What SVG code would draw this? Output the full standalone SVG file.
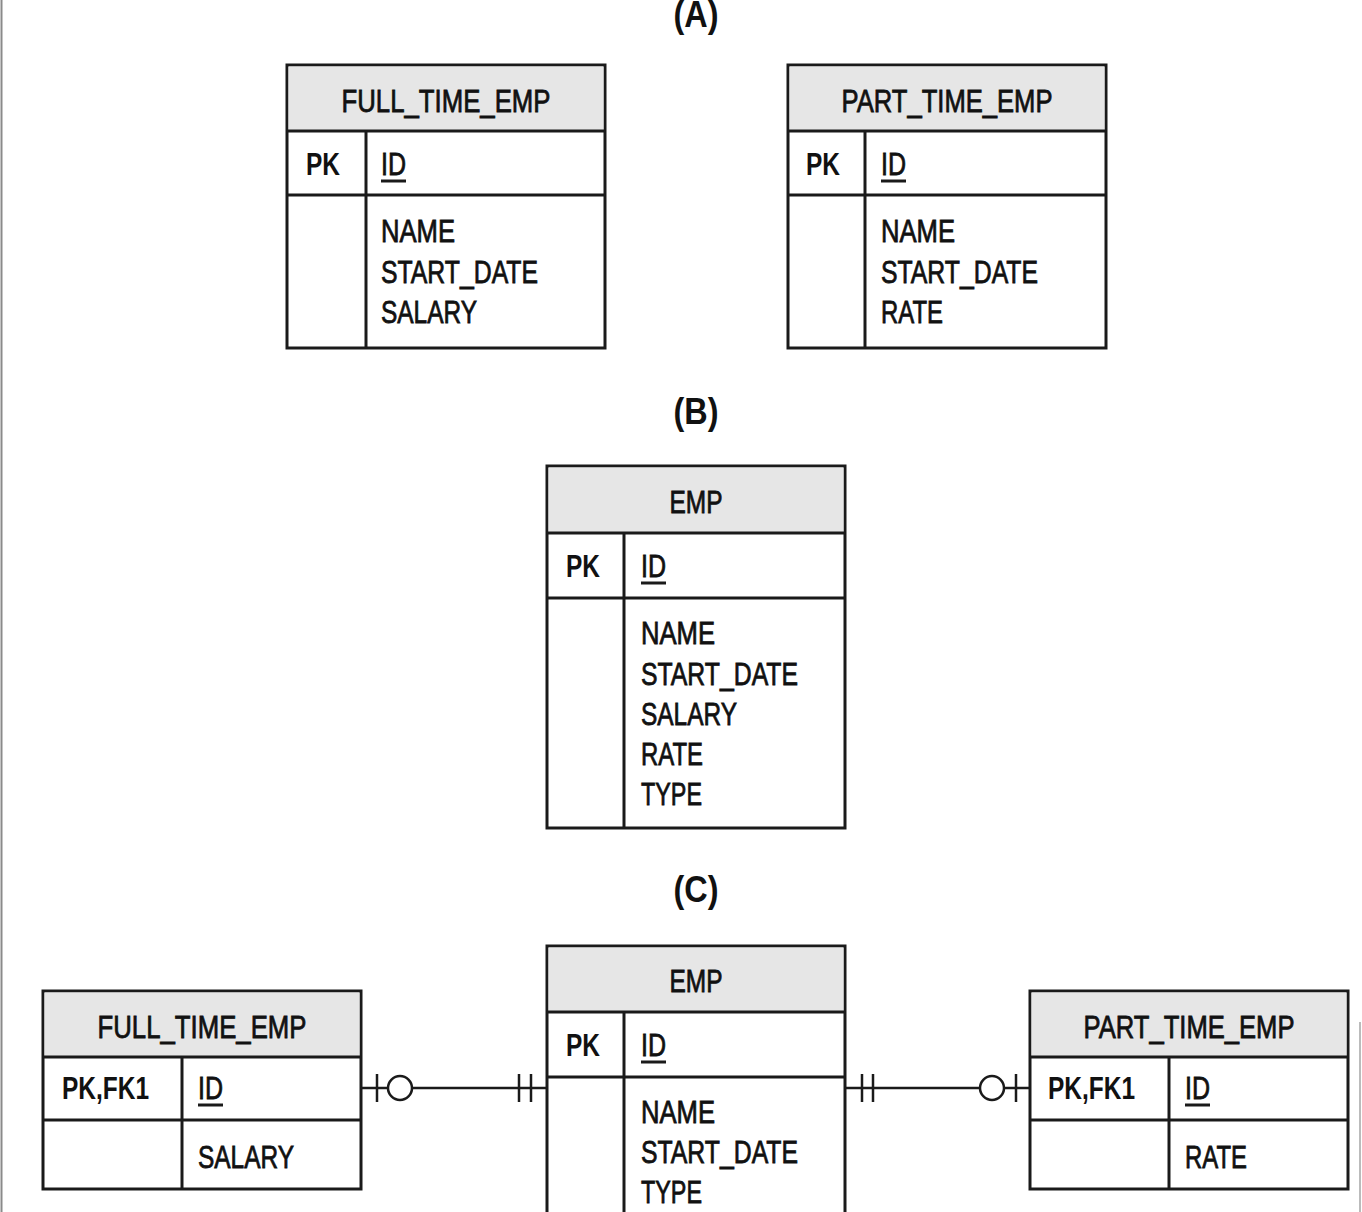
<svg xmlns="http://www.w3.org/2000/svg" width="1362" height="1212" viewBox="0 0 1362 1212">
<style>
text{font-family:"Liberation Sans",Arial,sans-serif;fill:#111;}
.t{font-size:32px;stroke:#111;stroke-width:0.8;}
.b{font-size:32px;font-weight:bold;}
.h{font-size:32px;text-anchor:middle;stroke:#111;stroke-width:0.8;}
.sec{font-size:36px;font-weight:bold;text-anchor:middle;}
.box{fill:#fff;stroke:#1a1a1a;stroke-width:3;}
.hd{fill:#e6e6e6;stroke:none;}
.ln{stroke:#1a1a1a;stroke-width:3;fill:none;}
.ul{stroke:#1a1a1a;stroke-width:3;}
.c{stroke:#1a1a1a;stroke-width:2.5;fill:none;}
.cc{stroke:#1a1a1a;stroke-width:2.5;fill:#fff;}
</style>
<rect width="1362" height="1212" fill="#fff"/>
<line x1="1.5" y1="0" x2="1.5" y2="1212" stroke="#8a8a8a" stroke-width="2"/>
<line x1="1360" y1="1022" x2="1360" y2="1212" stroke="#bbb" stroke-width="2"/>

<text class="sec" x="696" y="27" textLength="45" lengthAdjust="spacingAndGlyphs">(A)</text>
<text class="sec" x="696" y="424" textLength="45" lengthAdjust="spacingAndGlyphs">(B)</text>
<text class="sec" x="696" y="902" textLength="45" lengthAdjust="spacingAndGlyphs">(C)</text>

<g id="a_full_time_emp">
<rect class="box" x="287" y="65" width="318" height="283"/>
<rect class="hd" x="288.5" y="66.5" width="315" height="64"/>
<line class="ln" x1="287" y1="131" x2="605" y2="131"/>
<line class="ln" x1="287" y1="195" x2="605" y2="195"/>
<line class="ln" x1="366" y1="131" x2="366" y2="348"/>
<text class="h" x="446" y="112" textLength="209" lengthAdjust="spacingAndGlyphs">FULL_TIME_EMP</text>
<text class="b" x="306" y="175" textLength="34" lengthAdjust="spacingAndGlyphs">PK</text>
<text class="t" x="381" y="175" textLength="25" lengthAdjust="spacingAndGlyphs">ID</text>
<line class="ul" x1="381" y1="181" x2="406" y2="181"/>
<text class="t" x="381" y="242" textLength="74" lengthAdjust="spacingAndGlyphs">NAME</text>
<text class="t" x="381" y="283" textLength="157" lengthAdjust="spacingAndGlyphs">START_DATE</text>
<text class="t" x="381" y="323" textLength="96" lengthAdjust="spacingAndGlyphs">SALARY</text>
</g>

<g id="a_part_time_emp">
<rect class="box" x="788" y="65" width="318" height="283"/>
<rect class="hd" x="789.5" y="66.5" width="315" height="64"/>
<line class="ln" x1="788" y1="131" x2="1106" y2="131"/>
<line class="ln" x1="788" y1="195" x2="1106" y2="195"/>
<line class="ln" x1="865" y1="131" x2="865" y2="348"/>
<text class="h" x="947" y="112" textLength="211" lengthAdjust="spacingAndGlyphs">PART_TIME_EMP</text>
<text class="b" x="806" y="175" textLength="34" lengthAdjust="spacingAndGlyphs">PK</text>
<text class="t" x="881" y="175" textLength="25" lengthAdjust="spacingAndGlyphs">ID</text>
<line class="ul" x1="881" y1="181" x2="906" y2="181"/>
<text class="t" x="881" y="242" textLength="74" lengthAdjust="spacingAndGlyphs">NAME</text>
<text class="t" x="881" y="283" textLength="157" lengthAdjust="spacingAndGlyphs">START_DATE</text>
<text class="t" x="881" y="323" textLength="62" lengthAdjust="spacingAndGlyphs">RATE</text>
</g>

<g id="b_emp">
<rect class="box" x="547" y="466" width="298" height="362"/>
<rect class="hd" x="548.5" y="467.5" width="295" height="65"/>
<line class="ln" x1="547" y1="533" x2="845" y2="533"/>
<line class="ln" x1="547" y1="598" x2="845" y2="598"/>
<line class="ln" x1="624" y1="533" x2="624" y2="828"/>
<text class="h" x="696" y="513" textLength="53" lengthAdjust="spacingAndGlyphs">EMP</text>
<text class="b" x="566" y="577" textLength="34" lengthAdjust="spacingAndGlyphs">PK</text>
<text class="t" x="641" y="577" textLength="25" lengthAdjust="spacingAndGlyphs">ID</text>
<line class="ul" x1="641" y1="583" x2="666" y2="583"/>
<text class="t" x="641" y="644" textLength="74" lengthAdjust="spacingAndGlyphs">NAME</text>
<text class="t" x="641" y="685" textLength="157" lengthAdjust="spacingAndGlyphs">START_DATE</text>
<text class="t" x="641" y="725" textLength="96" lengthAdjust="spacingAndGlyphs">SALARY</text>
<text class="t" x="641" y="765" textLength="62" lengthAdjust="spacingAndGlyphs">RATE</text>
<text class="t" x="641" y="805" textLength="61" lengthAdjust="spacingAndGlyphs">TYPE</text>
</g>

<g id="c_emp">
<rect class="box" x="547" y="946" width="298" height="280"/>
<rect class="hd" x="548.5" y="947.5" width="295" height="64"/>
<line class="ln" x1="547" y1="1012" x2="845" y2="1012"/>
<line class="ln" x1="547" y1="1077" x2="845" y2="1077"/>
<line class="ln" x1="624" y1="1012" x2="624" y2="1212"/>
<text class="h" x="696" y="992" textLength="53" lengthAdjust="spacingAndGlyphs">EMP</text>
<text class="b" x="566" y="1056" textLength="34" lengthAdjust="spacingAndGlyphs">PK</text>
<text class="t" x="641" y="1056" textLength="25" lengthAdjust="spacingAndGlyphs">ID</text>
<line class="ul" x1="641" y1="1062" x2="666" y2="1062"/>
<text class="t" x="641" y="1123" textLength="74" lengthAdjust="spacingAndGlyphs">NAME</text>
<text class="t" x="641" y="1163" textLength="157" lengthAdjust="spacingAndGlyphs">START_DATE</text>
<text class="t" x="641" y="1203" textLength="61" lengthAdjust="spacingAndGlyphs">TYPE</text>
</g>

<g id="c_full_time_emp">
<rect class="box" x="43" y="991" width="318" height="198"/>
<rect class="hd" x="44.5" y="992.5" width="315" height="64"/>
<line class="ln" x1="43" y1="1057" x2="361" y2="1057"/>
<line class="ln" x1="43" y1="1120" x2="361" y2="1120"/>
<line class="ln" x1="182" y1="1057" x2="182" y2="1189"/>
<text class="h" x="202" y="1038" textLength="209" lengthAdjust="spacingAndGlyphs">FULL_TIME_EMP</text>
<text class="b" x="62" y="1099" textLength="87" lengthAdjust="spacingAndGlyphs">PK,FK1</text>
<text class="t" x="198" y="1099" textLength="25" lengthAdjust="spacingAndGlyphs">ID</text>
<line class="ul" x1="198" y1="1105" x2="223" y2="1105"/>
<text class="t" x="198" y="1168" textLength="96" lengthAdjust="spacingAndGlyphs">SALARY</text>
</g>

<g id="c_part_time_emp">
<rect class="box" x="1030" y="991" width="318" height="198"/>
<rect class="hd" x="1031.5" y="992.5" width="315" height="64"/>
<line class="ln" x1="1030" y1="1057" x2="1348" y2="1057"/>
<line class="ln" x1="1030" y1="1120" x2="1348" y2="1120"/>
<line class="ln" x1="1169" y1="1057" x2="1169" y2="1189"/>
<text class="h" x="1189" y="1038" textLength="211" lengthAdjust="spacingAndGlyphs">PART_TIME_EMP</text>
<text class="b" x="1048" y="1099" textLength="87" lengthAdjust="spacingAndGlyphs">PK,FK1</text>
<text class="t" x="1185" y="1099" textLength="25" lengthAdjust="spacingAndGlyphs">ID</text>
<line class="ul" x1="1185" y1="1105" x2="1210" y2="1105"/>
<text class="t" x="1185" y="1168" textLength="62" lengthAdjust="spacingAndGlyphs">RATE</text>
</g>

<g id="connectors">
<line class="c" x1="361" y1="1088" x2="547" y2="1088"/>
<line class="c" x1="377" y1="1074" x2="377" y2="1102"/>
<circle class="cc" cx="400" cy="1088" r="12"/>
<line class="c" x1="519" y1="1074" x2="519" y2="1102"/>
<line class="c" x1="531" y1="1074" x2="531" y2="1102"/>
<line class="c" x1="845" y1="1088" x2="1030" y2="1088"/>
<line class="c" x1="862" y1="1074" x2="862" y2="1102"/>
<line class="c" x1="873" y1="1074" x2="873" y2="1102"/>
<circle class="cc" cx="992" cy="1088" r="12"/>
<line class="c" x1="1016" y1="1074" x2="1016" y2="1102"/>
</g>
</svg>
